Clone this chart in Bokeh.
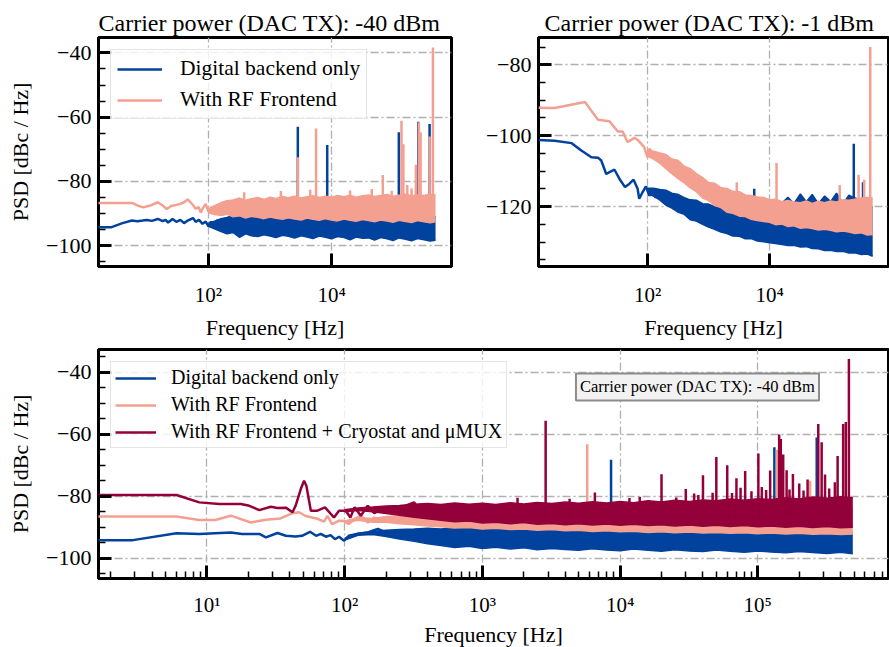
import numpy as np
from bokeh.plotting import figure
from bokeh.layouts import column, row
from bokeh.models import (Range1d, FixedTicker, SingleIntervalTicker, CustomJSTickFormatter, Label)
from bokeh.embed import file_html
from bokeh.resources import INLINE

BLUE = "#00429d"
SALMON = "#f4a091"
RED = "#93003a"
FONT = "Liberation Serif"

# ---------------- data ----------------
band_f = [100, 125, 160, 200, 250, 320, 400, 500, 630, 800,
          1000, 1250, 1600, 2000, 2500, 3200, 4000, 5000, 6300, 8000,
          10000, 12500, 16000, 20000, 25000, 32000, 40000, 50000, 63000, 80000,
          100000, 125000, 160000, 200000, 250000, 320000, 400000, 490000]

tl_blue_trace_f = [1.6, 2.6, 4.0, 5.7, 7.0, 8.5, 10, 12, 15, 18, 20, 22, 26, 30, 35, 40, 46, 56, 62, 70,
                   80, 90, 100, 110, 125, 140, 160]
tl_blue_trace = [-94.3, -94.3, -93.0, -92.2, -92.4, -92.2, -92.0, -92.3, -91.7, -92.4, -92.0, -92.8, -91.7,
                 -92.6, -92.0, -93.0, -92.2, -91.4, -92.6, -92.0, -93.2, -92.5, -94.0, -92.5, -94.5, -92.0, -94.0]
tl_blue_upper = [-93.0, -92.4, -91.6, -91.2, -90.6, -91.1, -90.3, -90.9, -90.5, -90.2, -90.8, -90.4, -90.6,
                 -90.1, -90.7, -90.5, -90.3, -90.9, -90.4, -90.6, -90.2, -90.8, -90.5, -90.4, -90.9, -90.3,
                 -90.6, -90.7, -90.2, -90.8, -90.5, -90.6, -90.9, -90.4, -90.7, -90.8, -90.5, -91.0]
tl_blue_lower = [-94.0, -94.8, -95.6, -96.3, -95.9, -97.4, -96.3, -96.9, -97.2, -96.6, -97.0, -97.5, -96.8,
                 -97.1, -97.6, -96.9, -97.3, -97.8, -97.0, -97.4, -97.9, -97.2, -97.5, -98.2, -97.3, -97.7,
                 -97.6, -98.3, -97.5, -97.9, -98.4, -97.6, -98.0, -98.5, -97.8, -98.2, -98.6, -98.3]
tl_blue_spike_f = [2830, 8500, 124000, 257000, 392000]
tl_blue_spike = [-63.0, -68.7, -64.7, -61.4, -62.1]

tl_salmon_trace_f = [1.6, 3.0, 5.7, 7.0, 8.7, 11, 15, 18, 21, 25, 29, 35, 40, 46, 55, 62, 69, 75, 80, 90,
                     100, 110, 125, 140, 160]
tl_salmon_trace = [-86.7, -86.7, -86.7, -87.5, -88.1, -87.6, -86.5, -87.5, -88.6, -87.6, -87.4, -87.0, -86.5,
                   -85.6, -87.2, -88.5, -88.0, -89.7, -88.5, -87.0, -89.5, -88.0, -90.0, -87.5, -89.0]
tl_salmon_upper = [-88.5, -87.6, -86.6, -86.0, -85.8, -85.2, -85.9, -85.4, -85.0, -85.6, -84.9, -85.3, -84.7,
                   -85.1, -84.6, -85.2, -84.8, -84.5, -85.0, -84.6, -84.9, -84.4, -84.8, -84.3, -84.9, -84.5,
                   -84.2, -84.7, -84.4, -84.1, -84.6, -84.3, -84.0, -84.5, -84.2, -84.4, -83.9, -84.2]
tl_salmon_lower = [-89.8, -90.3, -90.6, -90.2, -91.0, -90.7, -91.4, -90.9, -91.2, -91.6, -91.1, -91.5, -91.8,
                   -91.3, -91.7, -92.0, -91.4, -91.8, -92.1, -91.6, -92.0, -92.3, -91.7, -92.1, -92.4, -91.9,
                   -92.2, -92.6, -92.0, -92.3, -92.7, -92.1, -92.5, -92.8, -92.2, -92.6, -92.9, -92.6]
tl_salmon_spike_f = [380, 1500, 2830, 4500, 5600, 20000, 45000, 68000, 95000, 137000, 147000, 170000,
                     200000, 235000, 262000, 280000, 392000, 444000]
tl_salmon_spike = [-83.4, -83.0, -72.5, -82.6, -63.5, -82.8, -82.4, -78.0, -82.9, -61.1, -68.4, -81.1,
                   -82.2, -74.8, -61.6, -64.7, -66.0, -38.3]

tr_blue_trace_f = [1.63, 3.0, 5.7, 8.2, 12, 15.4, 17.4, 21, 23.8, 28.7, 34.7, 42.7, 50, 59, 68.7, 73, 83,
                   94, 107, 120, 135, 150]
tr_blue_trace = [-101.2, -101.4, -102.1, -104.2, -106.1, -106.2, -107.0, -110.8, -110.3, -109.6, -112.2,
                 -114.5, -113.6, -112.4, -115.0, -117.8, -115.9, -114.3, -116.9, -115.9, -117.5, -115.5]
tr_blue_upper = [-114.8, -114.8, -115.2, -115.4, -116.2, -116.6, -117.5, -118.1, -118.2, -119.2, -119.3,
                 -120.0, -120.1, -120.6, -120.4, -121.0, -120.6, -121.2, -121.0, -121.4, -120.8, -120.6,
                 -119.0, -117.4, -119.2, -116.4, -118.6, -116.6, -119.2, -117.0, -118.6, -116.2, -119.2,
                 -116.8, -117.6, -118.2, -119.0, -120.2]
tr_blue_lower = [-116.2, -117.0, -118.2, -119.6, -120.4, -121.6, -122.2, -123.7, -124.1, -125.0, -125.8,
                 -126.4, -127.2, -127.6, -128.3, -128.4, -129.1, -129.0, -129.7, -129.9, -130.2, -130.4,
                 -130.7, -131.0, -130.9, -131.4, -131.3, -131.8, -131.9, -132.4, -132.3, -132.7, -132.6,
                 -133.1, -133.0, -133.5, -133.4, -134.0]
tr_blue_spike_f = [5600, 240000, 340000]
tr_blue_spike = [-115.0, -102.3, -113.1]

tr_salmon_trace_f = [1.63, 3.0, 9.4, 15.4, 23.8, 32.5, 39, 47, 61, 69, 88, 100, 107, 120, 135, 150]
tr_salmon_trace = [-92.1, -92.2, -90.5, -95.5, -95.9, -98.8, -98.8, -101.8, -100.6, -101.2, -103.2, -106.1,
                   -103.7, -104.6, -106.5, -105.0]
tr_salmon_upper = [-104.6, -104.4, -104.9, -105.3, -106.6, -107.0, -108.6, -109.3, -110.7, -111.8, -113.2,
                   -113.4, -114.7, -114.9, -115.7, -115.8, -116.7, -116.9, -117.3, -117.4, -118.1, -117.9,
                   -118.6, -118.3, -118.7, -118.9, -118.4, -119.1, -118.5, -118.9, -118.4, -118.7, -118.1,
                   -118.2, -117.9, -117.6, -117.4, -117.6]
tr_salmon_lower = [-105.8, -106.6, -107.8, -109.3, -110.7, -112.2, -113.3, -114.7, -115.8, -117.6, -118.3,
                   -119.7, -120.3, -121.6, -121.9, -122.7, -122.8, -123.6, -123.9, -124.2, -124.4, -125.1,
                   -124.9, -125.6, -125.4, -126.1, -125.9, -126.2, -126.6, -126.4, -126.7, -127.1, -126.9,
                   -127.2, -127.6, -127.4, -128.0, -127.9]
tr_salmon_spike_f = [2900, 13000, 141000, 288000, 355000, 447000]
tr_salmon_spike = [-113.1, -107.7, -113.9, -111.0, -112.4, -75.0]

b_blue_trace_f = [1.57, 2.9, 6.0, 8.8, 14.9, 18, 24, 26.8, 32.5, 37.4, 44, 49, 56, 62, 67, 73, 79, 85, 91,
                  99, 107, 123, 147, 174, 195, 217, 256, 320]
b_blue_trace = [-94.2, -94.2, -92.0, -92.2, -91.7, -92.2, -92.2, -93.3, -91.9, -92.8, -93.0, -92.8, -91.5,
                -92.8, -92.2, -93.1, -92.6, -93.9, -93.1, -94.4, -92.8, -92.2, -91.7, -90.6, -91.5, -92.8,
                -91.7, -93.3]
b_blue_upper = [-93.6, -92.0, -91.4, -91.0, -90.8, -90.6, -90.4, -90.6, -90.2, -90.5, -90.3, -90.7, -90.4,
                -90.6, -90.3, -90.8, -90.5, -90.7, -90.4, -90.8, -90.6, -90.9, -90.6, -91.0, -90.7, -91.1,
                -90.9, -91.2, -91.0, -91.3, -91.1, -91.4, -91.2, -91.5, -91.3, -91.6, -91.4, -91.6]
b_blue_lower = [-94.2, -92.6, -92.4, -93.0, -93.8, -94.6, -95.4, -95.9, -96.6, -96.2, -96.9, -96.5, -97.1,
                -96.7, -97.3, -96.9, -97.2, -97.5, -97.0, -97.4, -97.6, -97.1, -97.5, -97.8, -97.3, -97.7,
                -97.9, -97.4, -97.8, -98.1, -97.7, -98.0, -98.3, -97.9, -98.2, -98.5, -98.1, -98.6]
b_blue_spike_f = [8600, 132000, 268000]
b_blue_spike = [-68.2, -64.2, -61.0]

b_salmon_trace_f = [1.57, 6.0, 8.8, 11.5, 14.9, 20.8, 26.8, 34.3, 41.8, 46.7, 52, 63.4, 70.8, 75, 81, 91,
                    99, 107, 118, 131, 147, 164, 183, 217, 256, 320]
b_salmon_trace = [-86.6, -86.6, -87.7, -87.7, -86.3, -88.5, -87.6, -87.2, -85.5, -85.2, -86.4, -87.3, -88.2,
                  -86.4, -89.0, -87.9, -88.0, -89.0, -87.4, -86.3, -88.5, -86.9, -88.0, -86.8, -88.6, -87.5]
b_salmon_upper = [-88.0, -87.0, -87.2, -86.6, -86.4, -86.0, -85.8, -85.6, -85.7, -85.3, -85.5, -85.2, -85.4,
                  -85.1, -85.3, -85.0, -85.2, -84.9, -85.1, -84.8, -85.0, -84.7, -84.9, -84.6, -84.8, -84.5,
                  -84.7, -84.4, -84.6, -84.3, -84.5, -84.2, -84.4, -84.1, -84.3, -84.0, -84.2, -84.0]
b_salmon_lower = [-88.6, -87.8, -88.4, -88.4, -88.9, -89.2, -89.6, -89.9, -90.3, -90.1, -90.6, -90.4, -90.8,
                  -90.6, -91.0, -90.8, -91.2, -91.0, -91.4, -91.2, -91.5, -91.3, -91.7, -91.5, -91.8, -91.6,
                  -91.9, -91.7, -92.0, -91.8, -92.1, -91.9, -92.2, -92.0, -92.3, -92.1, -92.4, -92.2]
b_salmon_spike_f = [5770, 138000, 240000]
b_salmon_spike = [-63.2, -65.0, -75.0]

b_red_trace_f = [1.57, 6.0, 8.8, 12.3, 17.6, 20.3, 24, 29.1, 32.5, 37.4, 41.8, 44, 48, 50.7, 52.7, 56.8,
                 63.4, 72, 83.6, 91, 102, 110, 118, 131, 147, 164, 183, 217, 256, 320, 357]
b_red_trace = [-79.6, -79.6, -82.0, -82.5, -82.5, -83.1, -84.5, -83.4, -83.8, -83.7, -85.2, -83.1, -77.7,
               -75.0, -76.6, -84.7, -84.7, -83.6, -86.9, -84.7, -84.7, -86.9, -83.6, -86.3, -83.1, -85.5,
               -84.4, -85.2, -83.6, -82.0, -85.2]
b_red_upper = [-84.4, -83.8, -83.5, -83.2, -83.0, -82.6, -82.4, -82.7, -82.2, -82.6, -82.3, -82.7, -82.1,
               -82.5, -82.0, -82.4, -81.9, -82.3, -81.8, -82.2, -81.7, -82.1, -81.5, -81.9, -81.3, -81.7,
               -81.2, -81.5, -80.9, -81.3, -80.8, -81.1, -80.5, -80.9, -80.3, -80.7, -80.2, -80.5]
b_red_lower = [-85.0, -84.6, -85.0, -85.6, -86.2, -86.8, -87.3, -87.8, -88.3, -88.0, -88.7, -88.4, -88.9,
               -88.5, -89.1, -88.8, -89.2, -88.9, -89.3, -89.0, -89.4, -89.1, -89.5, -89.2, -89.6, -89.3,
               -89.7, -89.4, -89.8, -89.5, -89.9, -89.6, -90.0, -89.7, -90.1, -89.8, -90.2, -90.0]
b_red_spike_f = [1800, 2880, 4300, 6560, 11700, 13900, 20000, 25600, 30000, 34500, 37000, 40000, 47000,
                 50000, 60000, 65000, 70000, 75000, 81000, 90000, 101000, 107000, 115000, 123000, 143000,
                 147000, 153000, 162000, 170000, 180000, 200000, 215000, 230000, 275000, 291000, 308000,
                 330000, 363000, 380000, 417000, 436000, 459000]
b_red_spike = [-80.5, -55.6, -80.8, -78.8, -80.6, -80.2, -72.9, -80.4, -77.7, -79.1, -79.6, -73.2, -78.9,
               -67.3, -70.0, -79.0, -74.2, -77.3, -71.9, -78.4, -66.2, -77.0, -78.0, -71.7, -60.1,
               -61.5, -66.5, -71.6, -77.8, -72.8, -75.9, -78.2, -74.6, -56.7, -62.6, -73.0,
               -77.5, -75.5, -67.0, -56.7, -56.0, -35.7]

top_x_ticks = [1e2, 1e4]
bottom_x_ticks = [1e1, 1e2, 1e3, 1e4, 1e5]
x_limits = (1.63, 8.9e5)

LABELS = ["Digital backend only", "With RF Frontend", "With RF Frontend + Cryostat and \u03bcMUX"]

XFMT = CustomJSTickFormatter(code="""
const sup = {"0":"\u2070","1":"\u00b9","2":"\u00b2","3":"\u00b3","4":"\u2074","5":"\u2075",
             "6":"\u2076","7":"\u2077","8":"\u2078","9":"\u2079","-":"\u207b"};
const e = Math.round(Math.log10(tick));
return "10" + String(e).split("").map(c => sup[c]).join("");
""")
YFMT = CustomJSTickFormatter(code="""
return tick < 0 ? "\u2212" + Math.abs(tick) : String(tick);
""")


def make_fig(fw, fh, ylim, xticks, minor_xticks, mb, title=None, ylabel=None,
             title_offset=0, x_label_standoff=16, x_axis_label_standoff=5):
    p = figure(frame_width=fw, frame_height=fh, x_axis_type="log", output_backend="svg",
               toolbar_location=None, x_range=Range1d(*x_limits), y_range=Range1d(*ylim),
               min_border_left=mb[0], min_border_right=mb[1], min_border_top=mb[2],
               min_border_bottom=mb[3], background_fill_color="white", border_fill_color="white")
    if title:
        p.title.text = title
        p.title.text_font = FONT
        p.title.text_font_size = "24px"
        p.title.text_font_style = "normal"
        p.title.text_color = "black"
        p.title.align = "left"
        p.title.offset = title_offset
        p.title.standoff = 3
    p.outline_line_color = "black"
    p.outline_line_width = 3
    for ax in (p.xaxis[0], p.yaxis[0]):
        ax.axis_line_color = None
        ax.major_tick_in = 13
        ax.major_tick_out = 0
        ax.minor_tick_in = 7
        ax.minor_tick_out = 0
        ax.major_tick_line_width = 3
        ax.minor_tick_line_width = 1.5
        ax.major_tick_line_color = "black"
        ax.minor_tick_line_color = "black"
        ax.major_label_text_font = FONT
        ax.major_label_text_font_style = "normal"
        ax.major_label_text_color = "black"
        ax.axis_label_text_font = FONT
        ax.axis_label_text_font_size = "22px"
        ax.axis_label_text_font_style = "normal"
        ax.axis_label_text_color = "black"
    p.xaxis.major_label_text_font_size = "21px"
    p.yaxis.major_label_text_font_size = "22px"
    p.xaxis.ticker = FixedTicker(ticks=xticks, minor_ticks=minor_xticks)
    p.xaxis.formatter = XFMT
    p.xaxis.axis_label = "Frequency [Hz]"
    p.xaxis.major_label_standoff = x_label_standoff
    p.xaxis.axis_label_standoff = x_axis_label_standoff
    p.yaxis.ticker = SingleIntervalTicker(interval=20, num_minor_ticks=4)
    p.yaxis.formatter = YFMT
    p.yaxis.major_label_standoff = 7
    if ylabel:
        p.yaxis.axis_label = ylabel
        p.yaxis.axis_label_standoff = 10
    for g in (p.xgrid, p.ygrid):
        g.grid_line_color = "#b0b0b0"
        g.grid_line_dash = "8 3 2 3"
        g.grid_line_width = 1.3
    return p


def draw_series(p, color, trace_f, trace, upper, lower, spike_f, spike, label=None):
    p.varea(x=band_f, y1=lower, y2=upper, fill_color=color, fill_alpha=1.0)
    p.line(band_f, upper, line_color=color, line_width=1.5)
    p.line(band_f, lower, line_color=color, line_width=1.5)
    base = np.interp(np.log10(spike_f), np.log10(band_f), lower)
    p.segment(x0=spike_f, y0=base, x1=spike_f, y1=spike, line_color=color, line_width=2.5)
    kw = {"legend_label": label} if label else {}
    p.line(trace_f, trace, line_color=color, line_width=2.5, **kw)


def style_legend(p, font_size, glyph_w, standoff, spacing, margin, padding):
    lg = p.legend[0]
    lg.location = "top_left"
    lg.label_text_font = FONT
    lg.label_text_font_size = font_size
    lg.label_text_color = "black"
    lg.glyph_width = glyph_w
    lg.label_standoff = standoff
    lg.spacing = spacing
    lg.margin = margin
    lg.padding = padding
    lg.border_line_color = "#cccccc"
    lg.border_line_width = 1
    lg.background_fill_color = "white"
    lg.background_fill_alpha = 0.8


p1 = make_fig(353, 229, (-106.5, -35.2), top_x_ticks, [], (98, 10, 37, 74),
              title="Carrier power (DAC TX): -40 dBm", ylabel="PSD [dBc / Hz]")
draw_series(p1, BLUE, tl_blue_trace_f, tl_blue_trace, tl_blue_upper, tl_blue_lower,
            tl_blue_spike_f, tl_blue_spike, LABELS[0])
draw_series(p1, SALMON, tl_salmon_trace_f, tl_salmon_trace, tl_salmon_upper, tl_salmon_lower,
            tl_salmon_spike_f, tl_salmon_spike, LABELS[1])
style_legend(p1, "21.5px", 45, 18, 6, 12, 6)

p2 = make_fig(350, 229, (-136.9, -72.3), top_x_ticks, [], (77, 1, 37, 74),
              title="Carrier power (DAC TX): -1 dBm", title_offset=6)
draw_series(p2, BLUE, tr_blue_trace_f, tr_blue_trace, tr_blue_upper, tr_blue_lower,
            tr_blue_spike_f, tr_blue_spike)
draw_series(p2, SALMON, tr_salmon_trace_f, tr_salmon_trace, tr_salmon_upper, tr_salmon_lower,
            tr_salmon_spike_f, tr_salmon_spike)

minor_b = [m * 10.0 ** d for d in range(0, 6) for m in range(2, 10)]
p3 = make_fig(790, 229, (-106.6, -32.6), bottom_x_ticks, minor_b, (98, 1, 7, 71),
              ylabel="PSD [dBc / Hz]", x_label_standoff=14, x_axis_label_standoff=2)
draw_series(p3, BLUE, b_blue_trace_f, b_blue_trace, b_blue_upper, b_blue_lower,
            b_blue_spike_f, b_blue_spike, LABELS[0])
draw_series(p3, SALMON, b_salmon_trace_f, b_salmon_trace, b_salmon_upper, b_salmon_lower,
            b_salmon_spike_f, b_salmon_spike, LABELS[1])
draw_series(p3, RED, b_red_trace_f, b_red_trace, b_red_upper, b_red_lower,
            b_red_spike_f, b_red_spike, LABELS[2])
style_legend(p3, "20px", 41, 15, 4, 12, 4)

p3.add_layout(Label(x=36500, y=-44.7, text="Carrier power (DAC TX): -40 dBm",
                    text_font=FONT, text_font_size="16.5px", text_color="black", text_align="center",
                    text_baseline="middle", background_fill_color="#f2f2f2",
                    border_line_color="#8c8c8c", border_line_width=2, padding=4))

layout = column(row(p1, p2, spacing=0), p3, spacing=0)
open("out.html", "w").write(file_html(layout, INLINE))
